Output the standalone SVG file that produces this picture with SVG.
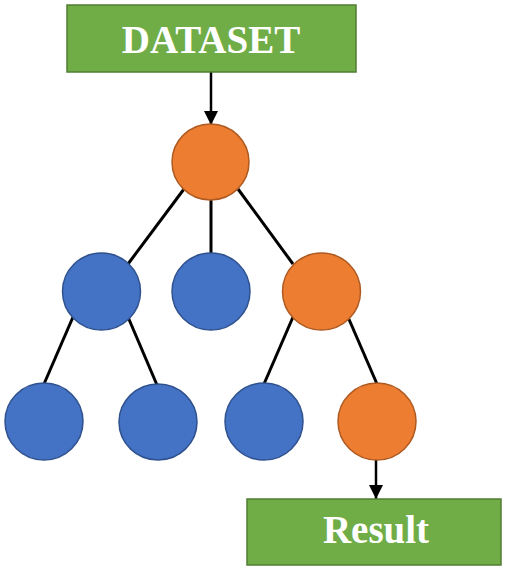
<svg xmlns="http://www.w3.org/2000/svg" width="510" height="570" viewBox="0 0 510 570">
<defs>
<marker id="ah" markerUnits="userSpaceOnUse" markerWidth="14" markerHeight="14" refX="14" refY="7" orient="auto">
<path d="M0,0 L14,7 L0,14 Z" fill="#000"/>
</marker>
<style>
.box{fill:#70AD47;stroke:#507E32;stroke-width:1.5}
.lbl{font-family:"Liberation Serif","Times New Roman",serif;font-weight:bold;font-size:39px;fill:#fff;text-anchor:middle}
.o{fill:#ED7D31;stroke:#AE5A21;stroke-width:1.5}
.b{fill:#4472C4;stroke:#2F528F;stroke-width:1.5}
.edge{stroke:#000;stroke-width:3;fill:none}
.arr{stroke:#000;stroke-width:2.5;fill:none;marker-end:url(#ah)}
</style>
</defs>
<rect width="510" height="570" fill="#fff"/>
<g id="connectors">
<line class="arr" x1="211" y1="72" x2="211" y2="125"/>
<line class="edge" x1="184" y1="189" x2="128" y2="264"/>
<line class="edge" x1="211" y1="200" x2="211" y2="253"/>
<line class="edge" x1="238" y1="189" x2="293" y2="264"/>
<line class="edge" x1="73" y1="317" x2="44" y2="384"/>
<line class="edge" x1="128" y1="317" x2="157" y2="385"/>
<line class="edge" x1="293" y1="317" x2="264" y2="384"/>
<line class="edge" x1="348" y1="317" x2="377" y2="384"/>
<line class="arr" x1="376" y1="460" x2="376" y2="499"/>
</g>
<g id="dataset">
<rect class="box" x="67" y="5" width="289" height="67"/>
<text class="lbl" x="211" y="53">DATASET</text>
</g>
<g id="root"><ellipse class="o" cx="210.5" cy="162" rx="38.5" ry="38"/></g>
<g id="n1"><ellipse class="b" cx="101.5" cy="291.5" rx="39" ry="38.5"/></g>
<g id="n2"><ellipse class="b" cx="211" cy="291.5" rx="39" ry="38.5"/></g>
<g id="n3"><ellipse class="o" cx="321.5" cy="291.5" rx="39" ry="38.5"/></g>
<g id="n4"><ellipse class="b" cx="44" cy="421.5" rx="39" ry="38.5"/></g>
<g id="n5"><ellipse class="b" cx="158" cy="422" rx="39" ry="38"/></g>
<g id="n6"><ellipse class="b" cx="264" cy="421.5" rx="39" ry="38.5"/></g>
<g id="n7"><ellipse class="o" cx="377" cy="421.5" rx="39" ry="38.5"/></g>
<g id="result">
<rect class="box" x="247" y="499" width="254" height="66"/>
<text class="lbl" x="376" y="543">Result</text>
</g>
</svg>
